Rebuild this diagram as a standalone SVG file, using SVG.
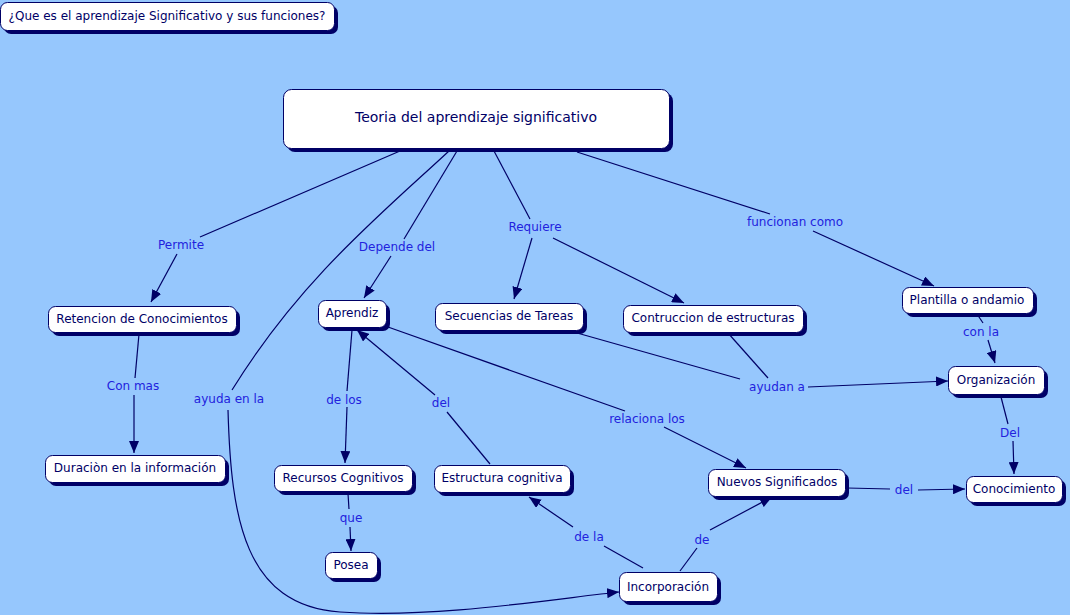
<svg xmlns="http://www.w3.org/2000/svg" width="1070" height="615" viewBox="0 0 1070 615">
<style>
.sh{fill:#000066}
.bx{fill:#ffffff;stroke:#000066;stroke-width:1}
.nt{font-family:"DejaVu Sans","Verdana",sans-serif;font-size:12px;fill:#000066;text-anchor:middle}
.lb{font-family:"DejaVu Sans","Verdana",sans-serif;font-size:12px;fill:#2222dd;text-anchor:middle}
.ln{fill:none;stroke:#000066;stroke-width:1.2}
</style>
<defs>
<marker id="ar" viewBox="0 0 12 10" refX="12" refY="5" markerWidth="12" markerHeight="10" markerUnits="userSpaceOnUse" orient="auto">
<path d="M0,0 L12,5 L0,10 Z" fill="#000066"/>
</marker>
</defs>
<rect width="1070" height="615" fill="#96c7fd"/>

<g id="connectors">
<path class="ln" d="M400,151 L200,237"/>
<path class="ln" d="M177,254 L151,302" marker-end="url(#ar)"/>
<text class="lb" x="181" y="249">Permite</text>
<path class="ln" d="M457,151 L404,239"/>
<path class="ln" d="M391,256 L364,298" marker-end="url(#ar)"/>
<text class="lb" x="397" y="251">Depende del</text>
<path class="ln" d="M449,151 C380,215 300,280 232,390"/>
<path class="ln" d="M228,410 C231,520 245,605 340,612 S560,598 619,592" marker-end="url(#ar)"/>
<text class="lb" x="229" y="403">ayuda en la</text>
<path class="ln" d="M494,151 L530,219"/>
<path class="ln" d="M532,238 L514,299" marker-end="url(#ar)"/>
<path class="ln" d="M553,238 L684,303" marker-end="url(#ar)"/>
<text class="lb" x="535" y="231">Requiere</text>
<path class="ln" d="M577,152 L770,214"/>
<path class="ln" d="M813,231 L934,286" marker-end="url(#ar)"/>
<text class="lb" x="795" y="226">funcionan como</text>
<path class="ln" d="M139,334 L135,378"/>
<path class="ln" d="M134,395 L134,453" marker-end="url(#ar)"/>
<text class="lb" x="133" y="390">Con mas</text>
<path class="ln" d="M352,330 L347,391"/>
<path class="ln" d="M347,407 L345,463" marker-end="url(#ar)"/>
<text class="lb" x="344" y="404">de los</text>
<path class="ln" d="M490,464 L447,412"/>
<path class="ln" d="M435,395 L357,330" marker-end="url(#ar)"/>
<text class="lb" x="441" y="407">del</text>
<path class="ln" d="M388,327 L625,411"/>
<path class="ln" d="M664,427 L746,468" marker-end="url(#ar)"/>
<text class="lb" x="647" y="423">relaciona los</text>
<path class="ln" d="M570,331 L740,379"/>
<path class="ln" d="M728,333 L768,378"/>
<path class="ln" d="M808,387 L948,381" marker-end="url(#ar)"/>
<text class="lb" x="777" y="391">ayudan a</text>
<path class="ln" d="M977,314 L983,323"/>
<path class="ln" d="M988,340 L995,363" marker-end="url(#ar)"/>
<text class="lb" x="981" y="336">con la</text>
<path class="ln" d="M1001,397 L1008,424"/>
<path class="ln" d="M1013,441 L1014,474" marker-end="url(#ar)"/>
<text class="lb" x="1010" y="437">Del</text>
<path class="ln" d="M847,488 L890,489"/>
<path class="ln" d="M918,490 L965,489" marker-end="url(#ar)"/>
<text class="lb" x="904" y="494">del</text>
<path class="ln" d="M348,494 L349,509"/>
<path class="ln" d="M350,527 L351,551" marker-end="url(#ar)"/>
<text class="lb" x="351" y="522">que</text>
<path class="ln" d="M643,568 L604,546"/>
<path class="ln" d="M573,527 L529,497" marker-end="url(#ar)"/>
<text class="lb" x="589" y="541">de la</text>
<path class="ln" d="M680,571 L697,548"/>
<path class="ln" d="M710,530 L772,497" marker-end="url(#ar)"/>
<text class="lb" x="702" y="544">de</text>
</g>

<g id="title">
<rect class="sh" x="4" y="6" width="334" height="28" rx="7"/>
<rect class="bx" x="0.5" y="2.5" width="334" height="28" rx="7"/>
<text class="nt" x="167" y="20">¿Que es el aprendizaje Significativo y sus funciones?</text>
</g>
<g id="n-teoria">
<rect class="sh" x="287" y="93" width="386" height="59" rx="8"/>
<rect class="bx" x="283.5" y="89.5" width="386" height="59" rx="8"/>
<text class="nt" x="476" y="122" style="font-size:14px">Teoria del aprendizaje significativo</text>
</g>
<g id="n-retencion">
<rect class="sh" x="52" y="310" width="188" height="26" rx="7"/>
<rect class="bx" x="48.5" y="306.5" width="188" height="26" rx="7"/>
<text class="nt" x="142" y="323">Retencion de Conocimientos</text>
</g>
<g id="n-aprendiz">
<rect class="sh" x="322" y="304" width="68" height="27" rx="7"/>
<rect class="bx" x="318.5" y="300.5" width="68" height="27" rx="7"/>
<text class="nt" x="352" y="317">Aprendiz</text>
</g>
<g id="n-secuencias">
<rect class="sh" x="439" y="307" width="148" height="27" rx="7"/>
<rect class="bx" x="435.5" y="303.5" width="148" height="27" rx="7"/>
<text class="nt" x="509" y="320">Secuencias de Tareas</text>
</g>
<g id="n-contruccion">
<rect class="sh" x="627" y="309" width="180" height="27" rx="7"/>
<rect class="bx" x="623.5" y="305.5" width="180" height="27" rx="7"/>
<text class="nt" x="713" y="322">Contruccion de estructuras</text>
</g>
<g id="n-plantilla">
<rect class="sh" x="906" y="291" width="131" height="26" rx="7"/>
<rect class="bx" x="902.5" y="287.5" width="131" height="26" rx="7"/>
<text class="nt" x="967" y="304">Plantilla o andamio</text>
</g>
<g id="n-organizacion">
<rect class="sh" x="952" y="370" width="96" height="28" rx="7"/>
<rect class="bx" x="948.5" y="366.5" width="96" height="28" rx="7"/>
<text class="nt" x="996" y="384">Organización</text>
</g>
<g id="n-duracion">
<rect class="sh" x="49" y="459" width="180" height="27" rx="7"/>
<rect class="bx" x="45.5" y="455.5" width="180" height="27" rx="7"/>
<text class="nt" x="135" y="472">Duraciòn en la información</text>
</g>
<g id="n-recursos">
<rect class="sh" x="278" y="469" width="138" height="26" rx="7"/>
<rect class="bx" x="274.5" y="465.5" width="138" height="26" rx="7"/>
<text class="nt" x="343" y="482">Recursos Cognitivos</text>
</g>
<g id="n-estructura">
<rect class="sh" x="438" y="469" width="136" height="27" rx="7"/>
<rect class="bx" x="434.5" y="465.5" width="136" height="27" rx="7"/>
<text class="nt" x="502" y="482">Estructura cognitiva</text>
</g>
<g id="n-nuevos">
<rect class="sh" x="712" y="473" width="137" height="27" rx="7"/>
<rect class="bx" x="708.5" y="469.5" width="137" height="27" rx="7"/>
<text class="nt" x="777" y="486">Nuevos Significados</text>
</g>
<g id="n-conocimiento">
<rect class="sh" x="970" y="480" width="96" height="26" rx="7"/>
<rect class="bx" x="966.5" y="476.5" width="96" height="26" rx="7"/>
<text class="nt" x="1014" y="493">Conocimiento</text>
</g>
<g id="n-posea">
<rect class="sh" x="329" y="556" width="52" height="26" rx="7"/>
<rect class="bx" x="325.5" y="552.5" width="52" height="26" rx="7"/>
<text class="nt" x="351" y="569">Posea</text>
</g>
<g id="n-incorporacion">
<rect class="sh" x="623" y="576" width="98" height="29" rx="7"/>
<rect class="bx" x="619.5" y="572.5" width="98" height="29" rx="7"/>
<text class="nt" x="668" y="591">Incorporación</text>
</g>
</svg>
